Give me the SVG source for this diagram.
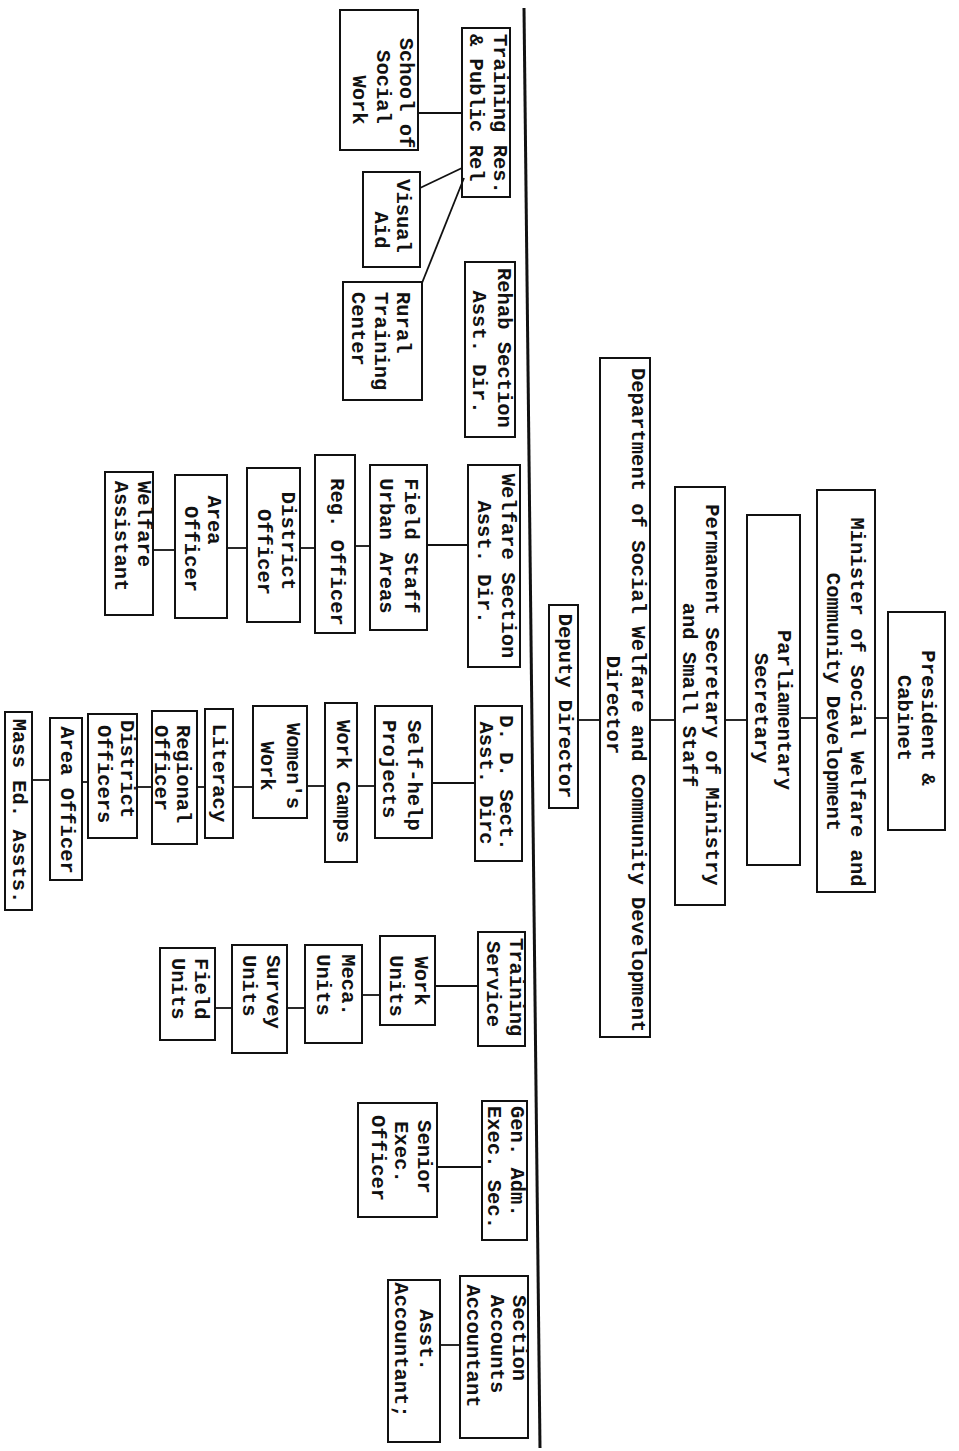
<svg xmlns="http://www.w3.org/2000/svg" width="959" height="1451" viewBox="0 0 959 1451">
<style>
.b{fill:none;stroke:#111;stroke-width:2}
.c{stroke:#111;stroke-width:1.8;fill:none}
.bar{stroke:#111;stroke-width:3}
text{font-family:"Liberation Mono","DejaVu Sans Mono",monospace;font-size:20.5px;font-weight:bold;fill:#111;dominant-baseline:central;text-anchor:middle}
text.s{text-anchor:start}
</style>
<rect width="959" height="1451" fill="#fff"/>
<g id="connectors">
<line class="bar" x1="524" y1="8" x2="540" y2="1448"/>
<line class="c" x1="578" y1="720" x2="600" y2="720"/>
<line class="c" x1="650" y1="720" x2="675" y2="720"/>
<line class="c" x1="725" y1="720" x2="747" y2="720"/>
<line class="c" x1="800" y1="718" x2="817" y2="718"/>
<line class="c" x1="875" y1="718" x2="888" y2="718"/>
<line class="c" x1="418" y1="113" x2="462" y2="113"/>
<line class="c" x1="420" y1="188" x2="462" y2="168"/>
<line class="c" x1="422" y1="283" x2="464" y2="178"/>
<line class="c" x1="427" y1="545" x2="468" y2="545"/>
<line class="c" x1="355" y1="546" x2="370" y2="546"/>
<line class="c" x1="300" y1="548" x2="315" y2="548"/>
<line class="c" x1="227" y1="548" x2="247" y2="548"/>
<line class="c" x1="153" y1="550" x2="175" y2="550"/>
<line class="c" x1="432" y1="783" x2="475" y2="783"/>
<line class="c" x1="357" y1="786" x2="375" y2="786"/>
<line class="c" x1="307" y1="786" x2="325" y2="786"/>
<line class="c" x1="233" y1="787" x2="253" y2="787"/>
<line class="c" x1="197" y1="787" x2="205" y2="787"/>
<line class="c" x1="137" y1="787" x2="152" y2="787"/>
<line class="c" x1="82" y1="782" x2="88" y2="782"/>
<line class="c" x1="32" y1="780" x2="50" y2="780"/>
<line class="c" x1="435" y1="986" x2="478" y2="986"/>
<line class="c" x1="362" y1="995" x2="380" y2="995"/>
<line class="c" x1="287" y1="1008" x2="305" y2="1008"/>
<line class="c" x1="215" y1="1008" x2="232" y2="1008"/>
<line class="c" x1="437" y1="1167" x2="482" y2="1167"/>
<line class="c" x1="440" y1="1345" x2="460" y2="1345"/>
</g>
<g id="president"><rect class="b" x="888" y="612" width="57" height="218"/>
<text transform="translate(927,718) rotate(90)">President &amp;</text>
<text transform="translate(903,718) rotate(90)">Cabinet</text></g>
<g id="minister"><rect class="b" x="817" y="490" width="58" height="402"/>
<text transform="translate(856,702) rotate(90)">Minister of Social Welfare and</text>
<text transform="translate(832,702) rotate(90)">Community Development</text></g>
<g id="parliamentary"><rect class="b" x="747" y="515" width="53" height="350"/>
<text transform="translate(783,710) rotate(90)">Parliamentary</text>
<text transform="translate(760,708) rotate(90)">Secretary</text></g>
<g id="permanent"><rect class="b" x="675" y="487" width="50" height="418"/>
<text transform="translate(711,695) rotate(90)">Permanent Secretary of Ministry</text>
<text transform="translate(688,695) rotate(90)">and Small Staff</text></g>
<g id="department"><rect class="b" x="600" y="358" width="50" height="679"/>
<text class="s" transform="translate(637,368) rotate(90)">Department of Social Welfare and Community Development</text>
<text transform="translate(612,705) rotate(90)">Director</text></g>
<g id="deputy"><rect class="b" x="549" y="605" width="29" height="203"/>
<text transform="translate(564,706) rotate(90)">Deputy Director</text></g>

<g id="training_res"><rect class="b" x="462" y="28" width="48" height="169"/>
<text class="s" transform="translate(499,34) rotate(90)">Training Res.</text>
<text class="s" transform="translate(475,34) rotate(90)">&amp; Public Rel</text></g>
<g id="school"><rect class="b" x="340" y="10" width="78" height="140"/>
<text transform="translate(405,93) rotate(90)">School of</text>
<text transform="translate(382,87) rotate(90)">Social</text>
<text transform="translate(358,100) rotate(90)">Work</text></g>
<g id="visual"><rect class="b" x="363" y="172" width="57" height="95"/>
<text transform="translate(402,216) rotate(90)">Visual</text>
<text transform="translate(380,230) rotate(90)">Aid</text></g>
<g id="rural"><rect class="b" x="343" y="282" width="79" height="118"/>
<text class="s" transform="translate(402,292) rotate(90)">Rural</text>
<text class="s" transform="translate(380,292) rotate(90)">Training</text>
<text class="s" transform="translate(357,292) rotate(90)">Center</text></g>
<g id="rehab"><rect class="b" x="465" y="262" width="50" height="175"/>
<text class="s" transform="translate(503,268) rotate(90)">Rehab Section</text>
<text transform="translate(478,352) rotate(90)">Asst. Dir.</text></g>

<g id="welfare"><rect class="b" x="468" y="465" width="52" height="202"/>
<text transform="translate(507,566) rotate(90)">Welfare Section</text>
<text transform="translate(483,562) rotate(90)">Asst. Dir.</text></g>
<g id="field_staff"><rect class="b" x="370" y="465" width="57" height="165"/>
<text transform="translate(410,546) rotate(90)">Field Staff</text>
<text transform="translate(385,546) rotate(90)">Urban Areas</text></g>
<g id="reg_officer"><rect class="b" x="315" y="455" width="40" height="178"/>
<text transform="translate(336,552) rotate(90)">Reg. Officer</text></g>
<g id="district_officer"><rect class="b" x="247" y="468" width="53" height="154"/>
<text transform="translate(287,541) rotate(90)">District</text>
<text transform="translate(263,552) rotate(90)">Officer</text></g>
<g id="area_officer"><rect class="b" x="175" y="475" width="52" height="143"/>
<text transform="translate(213,520) rotate(90)">Area</text>
<text transform="translate(190,549) rotate(90)">Officer</text></g>
<g id="welfare_assistant"><rect class="b" x="105" y="472" width="48" height="143"/>
<text transform="translate(143,524) rotate(90)">Welfare</text>
<text transform="translate(120,536) rotate(90)">Assistant</text></g>

<g id="dd_sect"><rect class="b" x="475" y="706" width="47" height="155"/>
<text transform="translate(505,783) rotate(90)">D. D. Sect.</text>
<text transform="translate(485,783) rotate(90)">Asst. Dirc</text></g>
<g id="self_help"><rect class="b" x="375" y="706" width="57" height="132"/>
<text class="s" transform="translate(413,720) rotate(90)">Self-help</text>
<text class="s" transform="translate(388,720) rotate(90)">Projects</text></g>
<g id="work_camps"><rect class="b" x="325" y="703" width="32" height="159"/>
<text class="s" transform="translate(342,720) rotate(90)">Work Camps</text></g>
<g id="womens_work"><rect class="b" x="253" y="706" width="54" height="112"/>
<text transform="translate(292,766) rotate(90)">Women's</text>
<text transform="translate(266,766) rotate(90)">Work</text></g>
<g id="literacy"><rect class="b" x="205" y="709" width="28" height="129"/>
<text transform="translate(218,773) rotate(90)">Literacy</text></g>
<g id="regional_officer"><rect class="b" x="152" y="711" width="45" height="133"/>
<text class="s" transform="translate(182,725) rotate(90)">Regional</text>
<text class="s" transform="translate(160,725) rotate(90)">Officer</text></g>
<g id="district_officers"><rect class="b" x="88" y="714" width="49" height="124"/>
<text class="s" transform="translate(126,720) rotate(90)">District</text>
<text class="s" transform="translate(103,725) rotate(90)">Officers</text></g>
<g id="area_officer_2"><rect class="b" x="50" y="718" width="32" height="162"/>
<text transform="translate(66,800) rotate(90)">Area Officer</text></g>
<g id="mass_ed"><rect class="b" x="5" y="712" width="27" height="198"/>
<text transform="translate(18,811) rotate(90)">Mass Ed. Assts.</text></g>

<g id="training_service"><rect class="b" x="478" y="932" width="47" height="114"/>
<text class="s" transform="translate(515,938) rotate(90)">Training</text>
<text class="s" transform="translate(492,941) rotate(90)">Service</text></g>
<g id="work_units"><rect class="b" x="380" y="936" width="55" height="89"/>
<text transform="translate(420,981) rotate(90)">Work</text>
<text transform="translate(395,986) rotate(90)">Units</text></g>
<g id="meca_units"><rect class="b" x="305" y="945" width="57" height="98"/>
<text transform="translate(347,985) rotate(90)">Meca.</text>
<text transform="translate(322,985) rotate(90)">Units</text></g>
<g id="survey_units"><rect class="b" x="232" y="945" width="55" height="108"/>
<text class="s" transform="translate(272,955) rotate(90)">Survey</text>
<text class="s" transform="translate(248,955) rotate(90)">Units</text></g>
<g id="field_units"><rect class="b" x="160" y="948" width="55" height="92"/>
<text class="s" transform="translate(200,958) rotate(90)">Field</text>
<text class="s" transform="translate(177,958) rotate(90)">Units</text></g>

<g id="gen_adm"><rect class="b" x="482" y="1101" width="45" height="139"/>
<text class="s" transform="translate(516,1106) rotate(90)">Gen. Adm.</text>
<text class="s" transform="translate(493,1106) rotate(90)">Exec. Sec.</text></g>
<g id="senior_exec"><rect class="b" x="358" y="1103" width="79" height="114"/>
<text transform="translate(423,1157) rotate(90)">Senior</text>
<text transform="translate(400,1152) rotate(90)">Exec.</text>
<text transform="translate(377,1158) rotate(90)">Officer</text></g>
<g id="section_accounts"><rect class="b" x="460" y="1276" width="68" height="162"/>
<text transform="translate(518,1338) rotate(90)">Section</text>
<text transform="translate(496,1344) rotate(90)">Accounts</text>
<text transform="translate(472,1346) rotate(90)">Accountant</text></g>
<g id="asst_accountant"><rect class="b" x="388" y="1280" width="52" height="162"/>
<text transform="translate(425,1340) rotate(90)">Asst.</text>
<text transform="translate(400,1350) rotate(90)">Accountant;</text></g>
</svg>
